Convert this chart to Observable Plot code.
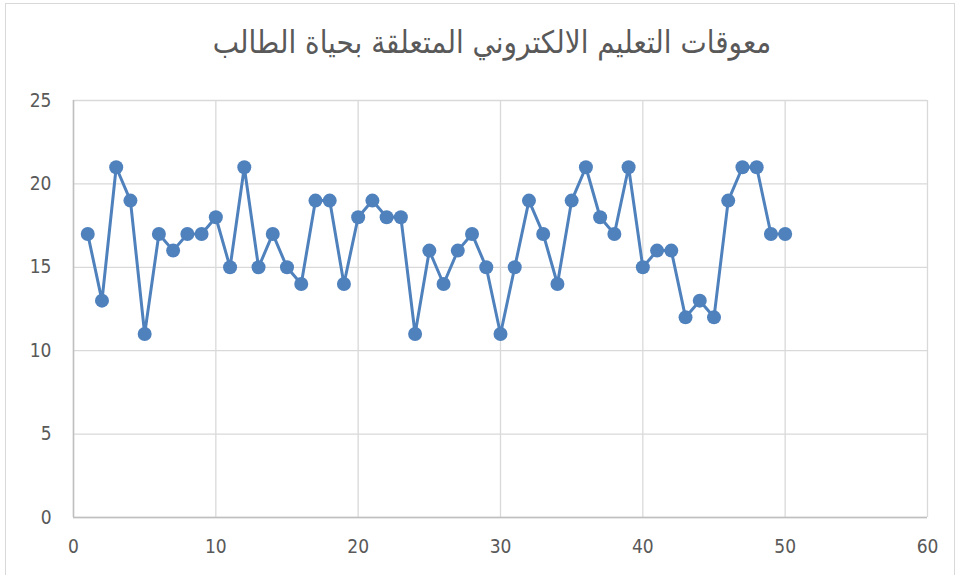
<!DOCTYPE html>
<html>
<head>
<meta charset="utf-8">
<script src="https://cdn.jsdelivr.net/npm/d3@7"></script>
<script src="https://cdn.jsdelivr.net/npm/@observablehq/plot@0.6"></script>
<style>
  html, body { margin: 0; padding: 0; background: #fff; overflow: hidden; }
  #wrap { position: relative; width: 961px; height: 575px; overflow: hidden; }
  #frame { position: absolute; left: 5px; top: 3px; width: 950px; height: 620px; border: 1px solid #d9d9d9; box-sizing: border-box; }
  #title { position: absolute; left: 0; top: 24px; width: 984px; text-align: center; font-family: "DejaVu Sans Condensed", "Noto Sans", sans-serif; font-size: 31px; color: #595959; direction: rtl; line-height: 1.2; }
  #chart { position: absolute; left: 0; top: 75px; }
</style>
</head>
<body>
<div id="wrap">
  <div id="frame"></div>
  <div id="title">معوقات التعليم الالكتروني المتعلقة بحياة الطالب</div>
  <div id="chart"></div>
</div>
<script>
const xValues = [1,2,3,4,5,6,7,8,9,10,11,12,13,14,15,16,17,18,19,20,21,22,23,24,25,26,27,28,29,30,31,32,33,34,35,36,37,38,39,40,41,42,43,44,45,46,47,48,49,50];
const yValues = [17,13,21,19,11,17,16,17,17,18,15,21,15,17,15,14,19,19,14,18,19,18,18,11,16,14,16,17,15,11,15,19,17,14,19,21,18,17,21,15,16,16,12,13,12,19,21,21,17,17];
const xTicks = [0,10,20,30,40,50,60];
const yTicks = [0,5,10,15,20,25];

const data = xValues.map((x, i) => ({x, y: yValues[i]}));
const color = "#4f81bd";

const chart = Plot.plot({
  width: 961,
  height: 500,
  marginLeft: 73,
  marginRight: 34,
  marginTop: 25,
  marginBottom: 58,
  style: { fontFamily: "'Liberation Sans Narrow', 'DejaVu Sans Condensed', sans-serif", fontSize: "19px", color: "#595959", background: "transparent" },
  x: { domain: [0, 60], ticks: xTicks, tickSize: 0, tickPadding: 22, label: null },
  y: { domain: [0, 25], ticks: yTicks, tickSize: 0, tickPadding: 22, label: null },
  marks: [
    Plot.gridX(xTicks, { stroke: "#d9d9d9", strokeOpacity: 1, strokeWidth: 1.3 }),
    Plot.gridY(yTicks, { stroke: "#d9d9d9", strokeOpacity: 1, strokeWidth: 1.3 }),
    Plot.ruleY([0], { stroke: "#bfbfbf", strokeWidth: 1.5 }),
    Plot.ruleX([0], { stroke: "#bfbfbf", strokeWidth: 1.5 }),
    Plot.line(data, { x: "x", y: "y", stroke: color, strokeWidth: 3 }),
    Plot.dot(data, { x: "x", y: "y", fill: color, r: 7, stroke: "none" })
  ]
});
document.getElementById("chart").appendChild(chart);
</script>
</body>
</html>
